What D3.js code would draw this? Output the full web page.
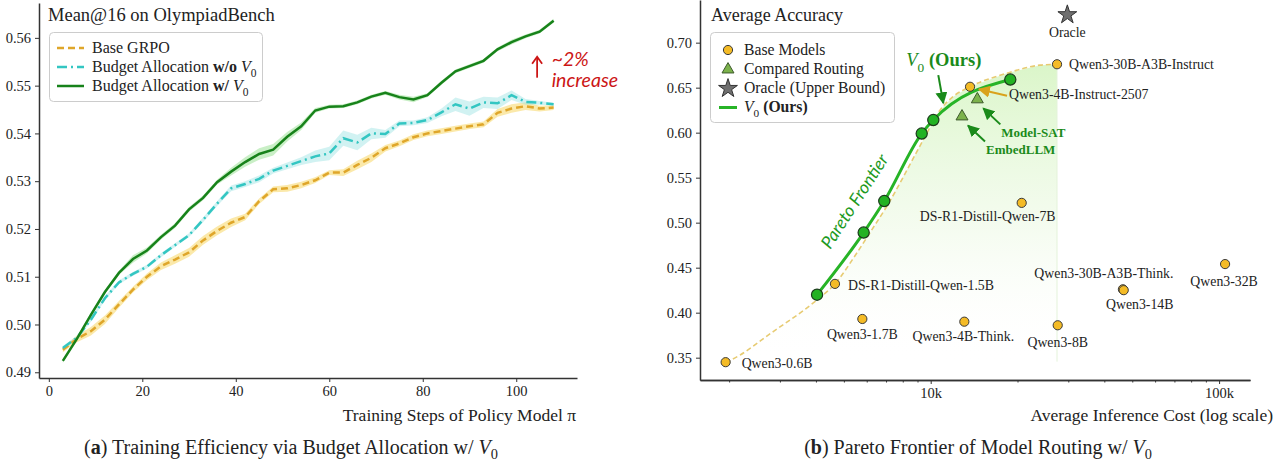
<!DOCTYPE html>
<html lang="en">
<head>
<meta charset="UTF-8" />
<title>V0 figure</title>
<script src="https://d3js.org/d3.v7.min.js"></script>
<style>
  * { margin: 0; padding: 0; }
  body { background: #fff; }
  svg text { font-family: "Liberation Serif", "Times New Roman", serif; fill: #222; }
  .tick text { font-size: 14.5px; fill: #222; }
  .domain { stroke: #333; stroke-width: 1.5; }
  .tick line { stroke: #333; stroke-width: 1; }
</style>
</head>
<body>
<script>
// ---------- (a) training curves ----------
const steps = [3, 6, 9, 12, 15, 18, 21, 24, 27, 30, 33, 36, 39, 42, 45, 48, 51, 54,
  57, 60, 63, 66, 69, 72, 75, 78, 81, 84, 87, 90, 93, 96, 99, 102, 105, 108];
const baseGrpo = [0.4947, 0.4970, 0.4986, 0.5010, 0.5042, 0.5073, 0.5100, 0.5122, 0.5136,
  0.5151, 0.5176, 0.5196, 0.5213, 0.5225, 0.5258, 0.5283, 0.5285, 0.5292, 0.5302, 0.5318,
  0.5318, 0.5334, 0.5349, 0.5369, 0.5379, 0.5392, 0.5400, 0.5405, 0.5410, 0.5415, 0.5419,
  0.5443, 0.5452, 0.5457, 0.5452, 0.5454];
const baseBand = [0.0005, 0.0007, 0.0009, 0.0009, 0.0007, 0.0006, 0.0007, 0.0008, 0.0009,
  0.0009, 0.0009, 0.0009, 0.0009, 0.0007, 0.0006, 0.0006, 0.0007, 0.0007, 0.0006, 0.0005,
  0.0007, 0.0009, 0.0009, 0.0007, 0.0006, 0.0006, 0.0006, 0.0006, 0.0006, 0.0006, 0.0006,
  0.0008, 0.0009, 0.0008, 0.0006, 0.0005];
const noV0 = [0.4951, 0.4972, 0.5010, 0.5055, 0.5088, 0.5106, 0.5121, 0.5145, 0.5166,
  0.5187, 0.5219, 0.5253, 0.5285, 0.5294, 0.5305, 0.5322, 0.5332, 0.5342, 0.5352, 0.5358,
  0.5390, 0.5381, 0.5400, 0.5399, 0.5421, 0.5422, 0.5428, 0.5444, 0.5461, 0.5452, 0.5465,
  0.5463, 0.5480, 0.5466, 0.5464, 0.5461];
const noV0Band = [0.0004, 0.0004, 0.0004, 0.0004, 0.0004, 0.0004, 0.0004, 0.0004, 0.0004,
  0.0004, 0.0005, 0.0005, 0.0006, 0.0006, 0.0007, 0.0006, 0.0007, 0.0008, 0.0012, 0.0014,
  0.0016, 0.0016, 0.0012, 0.0008, 0.0006, 0.0005, 0.0006, 0.0008, 0.0014, 0.0015, 0.0012,
  0.0012, 0.0010, 0.0006, 0.0004, 0.0003];
const withV0 = [0.4924, 0.4970, 0.5020, 0.5068, 0.5108, 0.5137, 0.5155, 0.5183, 0.5207,
  0.5241, 0.5265, 0.5298, 0.5320, 0.5340, 0.5357, 0.5366, 0.5393, 0.5415, 0.5448, 0.5456,
  0.5457, 0.5465, 0.5477, 0.5485, 0.5476, 0.5471, 0.5480, 0.5506, 0.5530, 0.5541, 0.5552,
  0.5576, 0.5591, 0.5603, 0.5613, 0.5636];
const withV0Band = [0.0004, 0.0004, 0.0004, 0.0004, 0.0004, 0.0008, 0.0006, 0.0005, 0.0005,
  0.0005, 0.0005, 0.0005, 0.0008, 0.0010, 0.0012, 0.0012, 0.0010, 0.0008, 0.0005, 0.0004,
  0.0004, 0.0004, 0.0004, 0.0004, 0.0005, 0.0006, 0.0004, 0.0004, 0.0004, 0.0004, 0.0004,
  0.0004, 0.0005, 0.0004, 0.0004, 0.0004];
const stepTicks = [0, 20, 40, 60, 80, 100];
const meanTicks = [0.49, 0.50, 0.51, 0.52, 0.53, 0.54, 0.55, 0.56];

// ---------- (b) pareto frontier ----------
const baseNames = ["Qwen3-0.6B", "DS-R1-Distill-Qwen-1.5B", "Qwen3-1.7B", "Qwen3-4B-Think.",
  "Qwen3-8B", "DS-R1-Distill-Qwen-7B", "Qwen3-30B-A3B-Think.", "Qwen3-14B", "Qwen3-32B",
  "Qwen3-30B-A3B-Instruct", "Qwen3-4B-Instruct-2507"];
const baseCost = [1945, 4656, 5794, 13080, 27570, 20680, 46400, 46700, 104900, 27420, 13690];
const baseAcc = [0.345, 0.432, 0.393, 0.390, 0.386, 0.522, 0.426, 0.425, 0.454, 0.676, 0.651];
const routeNames = ["Model-SAT", "EmbedLLM"];
const routeCost = [14510, 12840];
const routeAcc = [0.637, 0.618];
const oracleCost = [29770];
const oracleAcc = [0.731];
const v0Cost = [4036, 5855, 6902, 9307, 10210, 18880];
const v0Acc = [0.420, 0.489, 0.524, 0.599, 0.614, 0.659];
const frontCost = [1945, 2013, 2844, 4024, 4656, 5536, 6160, 7036, 9426, 10770, 11950, 13690, 18350, 23930, 27420];
const frontAcc = [0.345, 0.347, 0.379, 0.414, 0.432, 0.466, 0.489, 0.518, 0.592, 0.625, 0.640, 0.651, 0.666, 0.675, 0.676];
const costTicks = [10000, 100000];
const costMinor = [2000, 3000, 4000, 5000, 6000, 7000, 8000, 9000, 20000, 30000, 40000, 50000, 60000, 70000, 80000, 90000];
const accTicks = [0.35, 0.40, 0.45, 0.50, 0.55, 0.60, 0.65, 0.70];

// label layout for base models: [dx, dy, anchor]
const labelPos = {
  "Qwen3-0.6B": [16, 1, "start"],
  "DS-R1-Distill-Qwen-1.5B": [13, 2, "start"],
  "Qwen3-1.7B": [0, 15, "middle"],
  "Qwen3-4B-Think.": [-1, 15, "middle"],
  "Qwen3-8B": [0, 17, "middle"],
  "DS-R1-Distill-Qwen-7B": [-34, 14, "middle"],
  "Qwen3-30B-A3B-Think.": [-19, -16, "middle"],
  "Qwen3-14B": [16, 14, "middle"],
  "Qwen3-32B": [-1, 17, "middle"],
  "Qwen3-30B-A3B-Instruct": [12, 0, "start"],
  "Qwen3-4B-Instruct-2507": [39, 8, "start"]
};

const W = 1284, H = 462;
const svg = d3.select("body").append("svg").attr("width", W).attr("height", H);

const defs = svg.append("defs");
function arrowMarker(id, color) {
  defs.append("marker").attr("id", id).attr("viewBox", "0 0 10 10")
    .attr("refX", 9).attr("refY", 5).attr("markerWidth", 6).attr("markerHeight", 6)
    .attr("orient", "auto-start-reverse")
    .append("path").attr("d", "M0,0 L10,5 L0,10 z").attr("fill", color);
}
arrowMarker("arrGreen", "#1a8a1a");
arrowMarker("arrGold", "#d9a21b");

// rich text with italic / bold / subscript pieces
function rich(parent, x, y, parts, size, anchor) {
  const t = parent.append("text").attr("x", x).attr("y", y + size * 0.34)
    .attr("font-size", size).attr("text-anchor", anchor || "start");
  let down = false;
  parts.forEach(p => {
    const s = t.append("tspan").text(p.t);
    if (p.b) s.attr("font-weight", "bold");
    if (p.i) s.attr("font-style", "italic");
    if (p.c) s.style("fill", p.c);
    if (p.sub) { s.attr("font-size", size * 0.72).attr("dy", size * 0.28); down = true; }
    else if (down) { s.attr("dy", -size * 0.28); down = false; }
  });
  return t;
}

// ================= panel (a) =================
const xL = d3.scaleLinear().domain([-2.1, 113]).range([39, 577]);
const yL = d3.scaleLinear().domain([0.4888, 0.5673]).range([378, 3]);
const gA = svg.append("g");

gA.append("g").attr("transform", "translate(0,378)")
  .call(d3.axisBottom(xL).tickValues(stepTicks).tickSize(4).tickSizeOuter(0).tickPadding(4));
gA.append("g").attr("transform", "translate(39,0)")
  .call(d3.axisLeft(yL).tickValues(meanTicks).tickFormat(d3.format(".2f")).tickSize(4).tickSizeOuter(0).tickPadding(4));

const seriesA = [
  { v: baseGrpo, band: baseBand, color: "#dfa62a", fill: "#f7d456", dash: "7,4" },
  { v: noV0, band: noV0Band, color: "#33c6c2", fill: "#a4e6e6", dash: "10,4,2,4" },
  { v: withV0, band: withV0Band, color: "#17821a", fill: "#94df8e", dash: null }
];
seriesA.forEach(s => {
  const area = d3.area().x((d, i) => xL(steps[i]))
    .y0((d, i) => yL(s.v[i] - s.band[i])).y1((d, i) => yL(s.v[i] + s.band[i]));
  gA.append("path").datum(steps).attr("d", area).attr("fill", s.fill).attr("opacity", 0.5);
});
seriesA.forEach(s => {
  const line = d3.line().x((d, i) => xL(steps[i])).y((d, i) => yL(s.v[i]));
  gA.append("path").datum(steps).attr("d", line).attr("fill", "none")
    .attr("stroke", s.color).attr("stroke-width", 2.5)
    .attr("stroke-dasharray", s.dash);
});

gA.append("text").attr("x", 48).attr("y", 21).attr("font-size", 18.5).text("Mean@16 on OlympiadBench");

// legend (a)
const legA = gA.append("g");
legA.append("rect").attr("x", 49.5).attr("y", 32.5).attr("width", 213).attr("height", 69)
  .attr("rx", 4).attr("fill", "#fff").attr("fill-opacity", 0.85).attr("stroke", "#cccccc");
const legItemsA = [
  [[{ t: "Base GRPO" }], 0],
  [[{ t: "Budget Allocation " }, { t: "w/o", b: 1 }, { t: " " }, { t: "V", i: 1 }, { t: "0", sub: 1 }], 1],
  [[{ t: "Budget Allocation " }, { t: "w/", b: 1 }, { t: " " }, { t: "V", i: 1 }, { t: "0", sub: 1 }], 2]
];
legItemsA.forEach((it, k) => {
  const y = 48 + k * 19;
  const s = seriesA[it[1]];
  legA.append("line").attr("x1", 57).attr("x2", 84).attr("y1", y).attr("y2", y)
    .attr("stroke", s.color).attr("stroke-width", 2.5).attr("stroke-dasharray", s.dash);
  rich(legA, 92, y, it[0], 16);
});

gA.append("text").attr("x", 576).attr("y", 421).attr("font-size", 17.5).attr("text-anchor", "end")
  .text("Training Steps of Policy Model π");

// red annotation
const endX = xL(steps[steps.length - 1]), endY = yL(withV0[withV0.length - 1]);
const red = "#cc1515";
gA.append("path").attr("d", `M${endX - 16.5},${endY + 57} L${endX - 16.5},${endY + 37}`)
  .attr("stroke", red).attr("stroke-width", 1.8).attr("fill", "none");
gA.append("path").attr("d", `M${endX - 21.5},${endY + 43} L${endX - 16.5},${endY + 36} L${endX - 11.5},${endY + 43}`)
  .attr("stroke", red).attr("stroke-width", 1.8).attr("fill", "none");
gA.append("text").attr("x", endX - 2).attr("y", endY + 45).attr("font-size", 19.5)
  .style("font-family", "Lato, 'Open Sans', sans-serif").style("font-style", "italic").style("fill", red).text("~2%");
gA.append("text").attr("x", endX - 2).attr("y", endY + 66).attr("font-size", 19.5)
  .style("font-family", "Lato, 'Open Sans', sans-serif").style("font-style", "italic").style("fill", red).text("increase");

rich(svg, 291, 447, [{ t: "(" }, { t: "a", b: 1 }, { t: ") Training Efficiency via Budget Allocation w/ " }, { t: "V", i: 1 }, { t: "0", sub: 1 }], 20, "middle");

// ================= panel (b) =================
const xR = d3.scaleLog().domain([1585, 128000]).range([700, 1250]);
const yR = d3.scaleLinear().domain([0.3252, 0.7474]).range([380, 0]);
const gB = svg.append("g");

const grad = defs.append("linearGradient").attr("id", "frontFill")
  .attr("gradientUnits", "userSpaceOnUse").attr("x1", 0).attr("x2", 0)
  .attr("y1", yR(0.676)).attr("y2", yR(0.345));
grad.append("stop").attr("offset", "0%").attr("stop-color", "#d4f4bf").attr("stop-opacity", 0.85);
grad.append("stop").attr("offset", "55%").attr("stop-color", "#ecf9e3").attr("stop-opacity", 0.55);
grad.append("stop").attr("offset", "100%").attr("stop-color", "#ffffff").attr("stop-opacity", 0);

const lastC = frontCost[frontCost.length - 1];
const regionPts = frontCost.map((c, i) => [xR(c), yR(frontAcc[i])])
  .concat([[xR(lastC), yR(0.3456)], [xR(frontCost[0]), yR(0.3456)]]);
gB.append("path").attr("d", "M" + regionPts.join("L") + "Z").attr("fill", "url(#frontFill)");
gB.append("line").attr("x1", xR(lastC)).attr("x2", xR(lastC)).attr("y1", yR(frontAcc[frontAcc.length - 1]))
  .attr("y2", yR(0.3456)).attr("stroke", "#e4f3da").attr("stroke-width", 1);

gB.append("g").attr("transform", "translate(0,380)")
  .call(d3.axisBottom(xR).tickValues(costMinor).tickFormat("").tickSize(2.5).tickSizeOuter(0));
gB.append("g").attr("transform", "translate(0,380)")
  .call(d3.axisBottom(xR).tickValues(costTicks).tickFormat(d => d / 1000 + "k").tickSize(4).tickSizeOuter(0).tickPadding(4));
gB.append("g").attr("transform", "translate(700,0)")
  .call(d3.axisLeft(yR).tickValues(accTicks).tickFormat(d3.format(".2f")).tickSize(4).tickSizeOuter(0).tickPadding(4));

// dashed base-model frontier
gB.append("path").datum(frontCost)
  .attr("d", d3.line().x((d, i) => xR(frontCost[i])).y((d, i) => yR(frontAcc[i])).curve(d3.curveMonotoneX))
  .attr("fill", "none").attr("stroke", "#e7cb72").attr("stroke-width", 1.6).attr("stroke-dasharray", "5,3");

// V0 curve
gB.append("path").datum(v0Cost)
  .attr("d", d3.line().x((d, i) => xR(v0Cost[i])).y((d, i) => yR(v0Acc[i])).curve(d3.curveMonotoneX))
  .attr("fill", "none").attr("stroke", "#27b427").attr("stroke-width", 3);

// base models
baseCost.forEach((c, i) => {
  const px = xR(c), py = yR(baseAcc[i]);
  gB.append("circle").attr("cx", px).attr("cy", py).attr("r", 4.6)
    .attr("fill", "#f4bb26").attr("stroke", "#3a3a3a").attr("stroke-width", 1);
  const lp = labelPos[baseNames[i]];
  gB.append("text").attr("x", px + lp[0]).attr("y", py + lp[1] + 4.6).attr("font-size", 13.8)
    .attr("text-anchor", lp[2]).text(baseNames[i]);
});

// compared routing
routeCost.forEach((c, i) => {
  gB.append("path").attr("transform", `translate(${xR(c)},${yR(routeAcc[i])})`)
    .attr("d", d3.symbol(d3.symbolTriangle, 62)())
    .attr("fill", "#7cb24c").attr("stroke", "#3d5a2c").attr("stroke-width", 1);
});
// oracle
gB.append("path").attr("transform", `translate(${xR(oracleCost[0])},${yR(oracleAcc[0])})`)
  .attr("d", d3.symbol(d3.symbolStar, 110)())
  .attr("fill", "#6f6f6f").attr("stroke", "#333").attr("stroke-width", 1);
gB.append("text").attr("x", xR(oracleCost[0])).attr("y", yR(oracleAcc[0]) + 22).attr("font-size", 13.8)
  .attr("text-anchor", "middle").text("Oracle");

// V0 points
v0Cost.forEach((c, i) => {
  gB.append("circle").attr("cx", xR(c)).attr("cy", yR(v0Acc[i])).attr("r", 5.6)
    .attr("fill", "#23b223").attr("stroke", "#1c3a1c").attr("stroke-width", 1.2);
});

// annotations
const green = "#1a8a1a";
function arrow(x1, y1, x2, y2, id, color) {
  gB.append("line").attr("x1", x1).attr("y1", y1).attr("x2", x2).attr("y2", y2)
    .attr("stroke", color).attr("stroke-width", 2).attr("marker-end", `url(#${id})`);
}
routeNames.forEach((n, i) => {
  const px = xR(routeCost[i]), py = yR(routeAcc[i]);
  arrow(px + 23, py + 25, px + 6, py + 9, "arrGreen", green);
  gB.append("text").attr("x", px + 24).attr("y", py + 38).attr("font-size", 13)
    .attr("font-weight", "bold").style("fill", green).text(n);
});
{
  const k = baseNames.indexOf("Qwen3-4B-Instruct-2507");
  const px = xR(baseCost[k]), py = yR(baseAcc[k]);
  arrow(px + 37, py + 9, px + 9, py + 2.5, "arrGold", "#d9a21b");
}
{
  const px = xR(v0Cost[4]), py = yR(v0Acc[4]);
  arrow(px + 5, py - 45, px + 10, py - 17, "arrGreen", green);
  rich(gB, px - 27, py - 60, [{ t: "V", i: 1, c: green }, { t: "0", sub: 1, c: green }, { t: " (Ours)", b: 1, c: green }], 18.5);
}
{
  const px = xR(v0Cost[1]), py = yR(v0Acc[1]);
  gB.append("text").attr("transform", `translate(${px - 4},${py - 28}) rotate(-57)`)
    .attr("text-anchor", "middle").attr("font-size", 17.5)
    .style("font-family", "Lato, 'Open Sans', sans-serif").style("font-style", "italic")
    .style("fill", "#1e9a1e").text("Pareto Frontier");
}

gB.append("text").attr("x", 711).attr("y", 21).attr("font-size", 18).text("Average Accuracy");

// legend (b)
const legB = gB.append("g");
legB.append("rect").attr("x", 710.5).attr("y", 32.5).attr("width", 184).attr("height", 90)
  .attr("rx", 4).attr("fill", "#fff").attr("fill-opacity", 0.85).attr("stroke", "#cccccc");
legB.append("circle").attr("cx", 728).attr("cy", 50).attr("r", 4.6)
  .attr("fill", "#f4bb26").attr("stroke", "#3a3a3a");
legB.append("path").attr("transform", "translate(728,69.5)").attr("d", d3.symbol(d3.symbolTriangle, 62)())
  .attr("fill", "#7cb24c").attr("stroke", "#3d5a2c");
legB.append("path").attr("transform", "translate(728,88.5)").attr("d", d3.symbol(d3.symbolStar, 110)())
  .attr("fill", "#6f6f6f").attr("stroke", "#333");
legB.append("line").attr("x1", 719).attr("x2", 737).attr("y1", 107.5).attr("y2", 107.5)
  .attr("stroke", "#27b427").attr("stroke-width", 3);
rich(legB, 744, 50, [{ t: "Base Models" }], 15.7);
rich(legB, 744, 69, [{ t: "Compared Routing" }], 15.7);
rich(legB, 744, 88, [{ t: "Oracle (Upper Bound)" }], 15.7);
rich(legB, 744, 107, [{ t: "V", i: 1 }, { t: "0", sub: 1 }, { t: " (Ours)", b: 1 }], 15.7);

gB.append("text").attr("x", 1273).attr("y", 421).attr("font-size", 17.5).attr("text-anchor", "end")
  .text("Average Inference Cost (log scale)");

rich(svg, 978, 447, [{ t: "(" }, { t: "b", b: 1 }, { t: ") Pareto Frontier of Model Routing w/ " }, { t: "V", i: 1 }, { t: "0", sub: 1 }], 20, "middle");
</script>
</body>
</html>
